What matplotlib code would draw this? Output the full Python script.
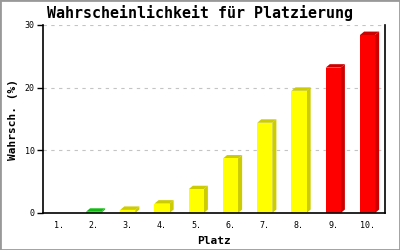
import numpy as np
import matplotlib.pyplot as plt
from matplotlib.patches import Polygon, Rectangle

plaetze = ["1.", "2.", "3.", "4.", "5.", "6.", "7.", "8.", "9.", "10."]
werte = [0.0, 0.2, 0.5, 1.5, 3.8, 8.7, 14.4, 19.5, 23.2, 28.4]
front = ["#00ee00", "#22dd22", "#ffff00", "#ffff00", "#ffff00", "#ffff00",
         "#ffff00", "#ffff00", "#ff0000", "#ff0000"]
seite = ["#00bb00", "#11bb11", "#cccc00", "#cccc00", "#cccc00", "#cccc00",
         "#cccc00", "#cccc00", "#cc0000", "#cc0000"]

mono = "DejaVu Sans Mono"

fig = plt.figure(figsize=(4, 2.5), dpi=100)
ax = fig.add_axes([0.1075, 0.148, 0.855, 0.752])

x = np.arange(1, len(werte) + 1)
breite = 0.44
dx, dy = 0.12, 0.55

for xi, w, fc, sc in zip(x, werte, front, seite):
    if w <= 0:
        continue
    l, r = xi - breite / 2, xi + breite / 2
    ax.add_patch(Polygon([(r, 0), (r + dx, dy), (r + dx, w + dy), (r, w)],
                         closed=True, facecolor=sc, edgecolor="none", zorder=3))
    ax.add_patch(Polygon([(l, w), (l + dx, w + dy), (r + dx, w + dy), (r, w)],
                         closed=True, facecolor=sc, edgecolor="none", zorder=3))
ax.bar(x, werte, width=breite, color=front, edgecolor="none", zorder=4)

ax.set_xlim(0.526, 10.511)
ax.set_ylim(0, 30)
ax.set_yticks([0, 10, 20, 30])
ax.set_xticks(x)
ax.set_xticklabels(plaetze, fontfamily=mono, fontsize=6)
for t in ax.get_yticklabels():
    t.set_fontfamily(mono)
    t.set_fontsize(6)
ax.tick_params(axis="x", length=0, pad=6)
ax.tick_params(axis="y", length=4, width=1, pad=2, direction="out")

ax.yaxis.grid(True, color="#c4c4c4", linestyle=(0, (3, 4)), linewidth=0.8, zorder=0)
ax.set_axisbelow(True)

ax.spines["top"].set_visible(False)
for s in ["left", "right", "bottom"]:
    ax.spines[s].set_linewidth(1.2)
    ax.spines[s].set_zorder(5)

ax.set_title("Wahrscheinlichkeit für Platzierung", fontfamily=mono,
             fontweight="bold", fontsize=10.8, x=0.459, pad=5)
ax.set_xlabel("Platz", fontfamily=mono, fontweight="bold", fontsize=8, labelpad=4)
ax.set_ylabel("Wahrsch. (%)", fontfamily=mono, fontweight="bold", fontsize=8, labelpad=5)

fig.patches.append(Rectangle((0, 0), 1, 1, transform=fig.transFigure,
                             fill=False, edgecolor="#999999", linewidth=2))

fig.savefig("out.png", dpi=100)
